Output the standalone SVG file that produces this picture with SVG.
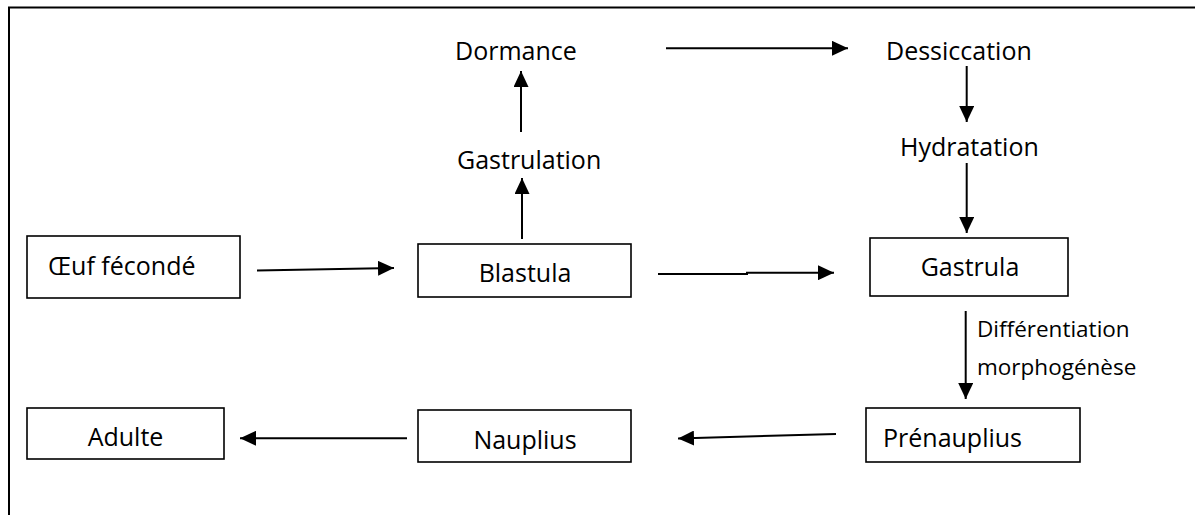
<svg xmlns="http://www.w3.org/2000/svg" width="1195" height="515" viewBox="0 0 1195 515">
<style>
.box{fill:#fff;stroke:#000;stroke-width:1.6}
.t{font-family:"Open Sans","Noto Sans",sans-serif;font-size:25px;fill:#000}
.s{font-family:"Open Sans","Noto Sans",sans-serif;font-size:22.5px;fill:#000}
.c{stroke:#000;stroke-width:2;fill:none;marker-end:url(#ah)}
.frame{stroke:#000;stroke-width:2;fill:none}
</style>
<defs>
<marker id="ah" markerUnits="userSpaceOnUse" markerWidth="16" markerHeight="15" refX="16" refY="7.5" orient="auto">
<path d="M0,0 L16,7.5 L0,15 z" fill="#000"/>
</marker>
</defs>
<rect width="1195" height="515" fill="#fff"/>
<path class="frame" d="M9,515 V7.5 H1195"/>
<g id="connectors">
<path class="c" d="M257,270.5 L394,268"/>
<path class="c" d="M658,274 H747 V272.7 H834"/>
<path class="c" d="M522,239 V178"/>
<path class="c" d="M521,132 V71"/>
<path class="c" d="M666,48.3 H848"/>
<path class="c" d="M966.7,66 V122"/>
<path class="c" d="M966.7,163 V233"/>
<path class="c" d="M965.7,311 V399"/>
<path class="c" d="M836,434 L678,438.5"/>
<path class="c" d="M407,438.3 H240"/>
</g>
<g id="oeuf">
<rect class="box" x="27" y="236" width="213" height="62"/>
<text class="t" x="48" y="275">Œuf fécondé</text>
</g>
<g id="blastula">
<rect class="box" x="418" y="244" width="213" height="53"/>
<text class="t" x="525" y="282" text-anchor="middle">Blastula</text>
</g>
<g id="gastrula">
<rect class="box" x="870" y="238" width="198" height="58"/>
<text class="t" x="970" y="276" text-anchor="middle">Gastrula</text>
</g>
<g id="gastrulation">
<text class="t" x="457" y="169">Gastrulation</text>
</g>
<g id="dormance">
<text class="t" x="455" y="60">Dormance</text>
</g>
<g id="dessiccation">
<text class="t" x="886" y="60">Dessiccation</text>
</g>
<g id="hydratation">
<text class="t" x="900" y="156">Hydratation</text>
</g>
<g id="label-diff">
<text class="s" x="977" y="337">Différentiation</text>
<text class="s" x="977" y="375">morphogénèse</text>
</g>
<g id="prenauplius">
<rect class="box" x="866" y="408" width="214" height="54"/>
<text class="t" x="883" y="447">Prénauplius</text>
</g>
<g id="nauplius">
<rect class="box" x="418" y="410" width="213" height="52"/>
<text class="t" x="525" y="449" text-anchor="middle">Nauplius</text>
</g>
<g id="adulte">
<rect class="box" x="27" y="408" width="197" height="51"/>
<text class="t" x="125.5" y="446" text-anchor="middle">Adulte</text>
</g>
</svg>
